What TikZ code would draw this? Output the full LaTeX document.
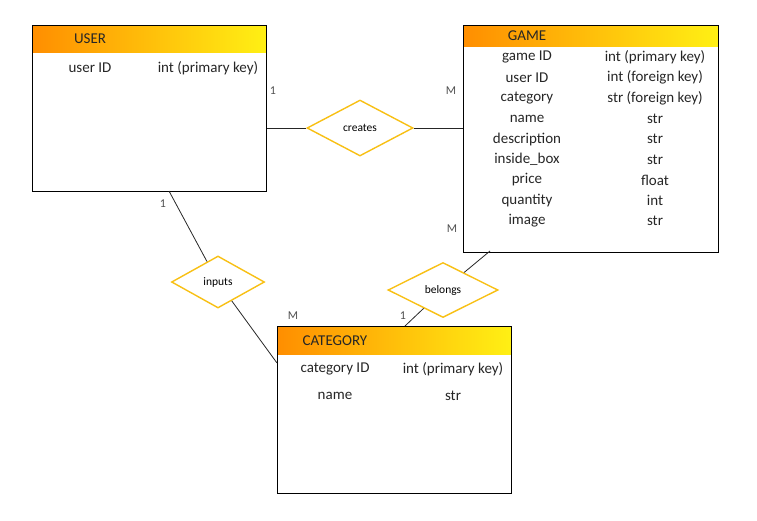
\documentclass[tikz,border=0pt]{standalone}
\usepackage{fontspec}
\setmainfont{Carlito}
\usetikzlibrary{shapes.geometric}

\definecolor{headorange}{RGB}{255,142,0}
\definecolor{headyellow}{RGB}{255,240,20}
\definecolor{relgold}{RGB}{248,192,20}
\definecolor{cardgray}{RGB}{80,80,80}

\tikzset{
  head/.style={rectangle, left color=headorange, right color=headyellow, inner sep=0pt, anchor=north west},
  entbox/.style={rectangle, draw=black, line width=0.9pt, inner sep=0pt, anchor=north west},
  attr/.style={font=\fontsize{15}{17}\selectfont, text=black!85, inner sep=0pt},
  rel/.style={diamond, draw=relgold, line width=1.4pt, fill=white, inner sep=0pt, font=\fontsize{11.5}{13}\selectfont},
  card/.style={font=\fontsize{12}{14}\selectfont, text=cardgray},
  link/.style={line width=0.8pt, black!85}
}

\begin{document}
\begin{tikzpicture}[x=1pt, y=-1pt]
      \useasboundingbox (0,0) rectangle (757,520);

      % Entities
      \node[head, minimum width=234pt, minimum height=27pt] (userhead) at (32,25) {};
      \node[entbox, minimum width=234pt, minimum height=166pt] (user) at (32,25) {};
      \node[head, minimum width=255pt, minimum height=21pt] (gamehead) at (463,25) {};
      \node[entbox, minimum width=255pt, minimum height=227pt] (game) at (463,25) {};
      \node[head, minimum width=234pt, minimum height=28pt] (cathead) at (277,326) {};
      \node[entbox, minimum width=234pt, minimum height=167pt] (category) at (277,326) {};

      % Titles
      \node[attr] (usertitle) at (90,39) {USER};
      \node[attr] (gametitle) at (527,36) {GAME};
      \node[attr] (cattitle) at (335,341) {CATEGORY};

      % Attributes
      \node[attr] (uid) at (90,68) {user ID};
      \node[attr] (uidt) at (208,68) {int (primary key)};
      \foreach \i/\a/\t in {0/game ID/int (primary key), 1/user ID/int (foreign key),
          2/category/str (foreign key), 3/name/str, 4/description/str,
          5/inside\_box/str, 6/price/float, 7/quantity/int, 8/image/str} {
        \node[attr] (ga\i) at (527,57+20.5*\i) {\a};
        \node[attr] (gt\i) at (655,57+20.5*\i) {\t};
      }
      \node[attr] (cid) at (335,369) {category ID};
      \node[attr] (cidt) at (453,369) {int (primary key)};
      \node[attr] (cname) at (335,396) {name};
      \node[attr] (cnamet) at (453,396) {str};

      % Relations
      \node[rel, minimum width=106pt, minimum height=56pt] (creates) at (360,128) {creates};
      \node[rel, minimum width=93pt, minimum height=52pt] (inputs) at (218,282) {inputs};
      \node[rel, minimum width=110pt, minimum height=55pt] (belongs) at (443,290) {belongs};

      % Links
      \coordinate (ui) at (169,191);
      \coordinate (ci) at (277,363);
      \coordinate (gb) at (490,251);
      \coordinate (cb) at (405,326);
      \draw[link] (user.east |- creates) -- (creates);
      \draw[link] (creates) -- (game.west |- creates);
      \draw[link] (ui) -- (inputs);
      \draw[link] (inputs) -- (ci);
      \draw[link] (gb) -- (belongs);
      \draw[link] (belongs) -- (cb);

      % Cardinalities
      \node[card] (c1) at (273,91) {1};
      \node[card] (c2) at (451,91) {M};
      \node[card] (c3) at (163,204) {1};
      \node[card] (c4) at (293,316) {M};
      \node[card] (c5) at (452,229) {M};
      \node[card] (c6) at (403,316) {1};
\end{tikzpicture}
\end{document}
